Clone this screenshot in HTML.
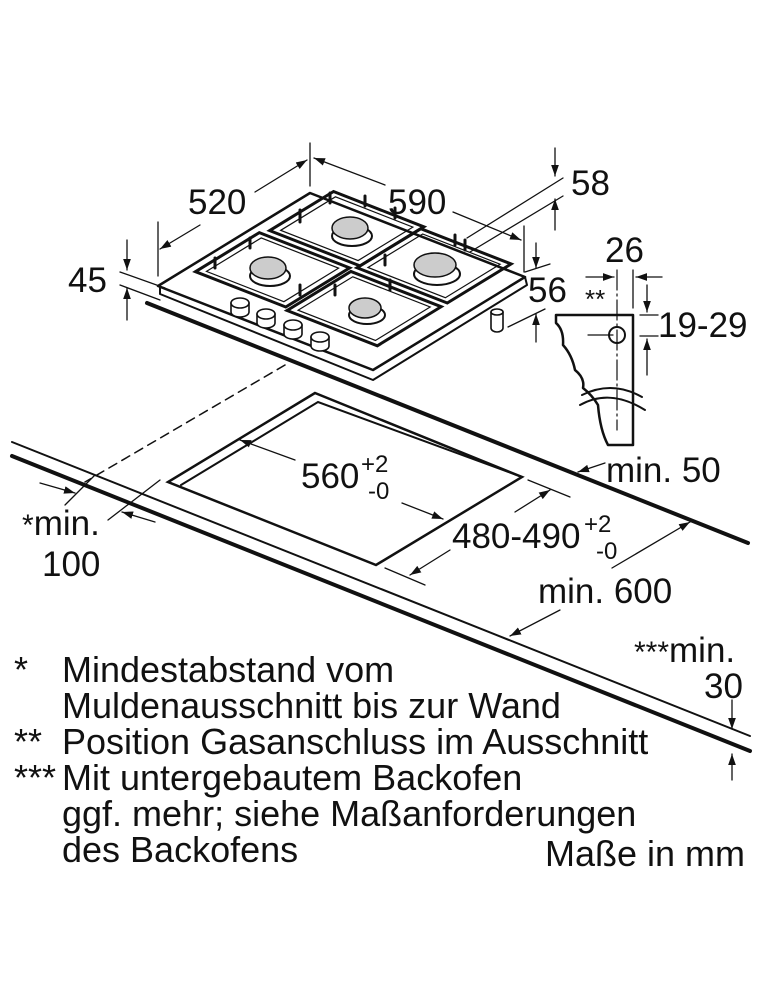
<!DOCTYPE html>
<html><head><meta charset="utf-8"><style>
html,body{margin:0;padding:0;background:#fff;}
svg{display:block;}
text{font-family:"Liberation Sans",Arial,sans-serif;fill:#111;}
</style></head><body>
<svg width="760" height="1000" viewBox="0 0 760 1000" xmlns="http://www.w3.org/2000/svg">
<defs>
<marker id="ar" viewBox="0 0 10 10" refX="10" refY="5" markerWidth="11" markerHeight="11" orient="auto-start-reverse" markerUnits="userSpaceOnUse">
<path d="M0,1.5 L10,5 L0,8.5 Z" fill="#111"/></marker>
</defs>
<g stroke="#111" fill="none" stroke-linecap="round">
<line x1="12" y1="442" x2="750" y2="736" stroke-width="2"/>
<line x1="12" y1="456" x2="750" y2="751" stroke-width="4"/>
<line x1="147" y1="303" x2="748" y2="543" stroke-width="4"/>
<line x1="285" y1="365" x2="85" y2="482" stroke-width="1.5" stroke-dasharray="9,6"/>
<line x1="65" y1="505" x2="95" y2="475" stroke-width="1.3"/>
<line x1="108" y1="520" x2="160" y2="480" stroke-width="1.3"/>
<line x1="40" y1="483" x2="75" y2="493" stroke-width="1.3" marker-end="url(#ar)"/>
<line x1="155" y1="522" x2="122" y2="512" stroke-width="1.3" marker-end="url(#ar)"/>
<polygon points="315,393 168,482 376,565 522,477" stroke-width="2.5"/>
<polyline points="181,485 318,402 522,477" stroke-width="2"/>
<line x1="295" y1="460" x2="240" y2="440" stroke-width="1.3" marker-end="url(#ar)"/>
<line x1="402" y1="503" x2="443" y2="519" stroke-width="1.3" marker-end="url(#ar)"/>
<line x1="528" y1="480" x2="570" y2="497" stroke-width="1.3"/>
<line x1="385" y1="568" x2="425" y2="585" stroke-width="1.3"/>
<line x1="515" y1="512" x2="550" y2="490" stroke-width="1.3" marker-end="url(#ar)"/>
<line x1="450" y1="550" x2="410" y2="575" stroke-width="1.3" marker-end="url(#ar)"/>
<line x1="612" y1="568" x2="690" y2="522" stroke-width="1.3" marker-end="url(#ar)"/>
<line x1="560" y1="610" x2="510" y2="636" stroke-width="1.3" marker-end="url(#ar)"/>
<line x1="605" y1="463" x2="578" y2="472" stroke-width="1.3" marker-end="url(#ar)"/>
<line x1="732" y1="700" x2="732" y2="729" stroke-width="1.3" marker-end="url(#ar)"/>
<line x1="732" y1="780" x2="732" y2="754" stroke-width="1.3" marker-end="url(#ar)"/>

<polygon points="158,286 310,193 525,277 373,370" stroke-width="2.5" stroke-linejoin="round" fill="#fff"/>
<polyline points="160,286 160,294 373,380 527,285 525,277" stroke-width="2" stroke-linejoin="round"/>
<g stroke-width="3">
<g transform="matrix(152,-93,215,84,158,286)">
<rect x="0.19" y="0.04" width="0.42" height="0.42" vector-effect="non-scaling-stroke"/>
<rect x="0.22" y="0.07" width="0.36" height="0.36" vector-effect="non-scaling-stroke" stroke-width="1.2"/>
<rect x="0.65" y="0.06" width="0.42" height="0.42" vector-effect="non-scaling-stroke"/>
<rect x="0.68" y="0.09" width="0.36" height="0.36" vector-effect="non-scaling-stroke" stroke-width="1.2"/>
<rect x="0.63" y="0.48" width="0.42" height="0.42" vector-effect="non-scaling-stroke"/>
<rect x="0.66" y="0.51" width="0.36" height="0.36" vector-effect="non-scaling-stroke" stroke-width="1.2"/>
<rect x="0.17" y="0.48" width="0.42" height="0.42" vector-effect="non-scaling-stroke"/>
<rect x="0.20" y="0.51" width="0.36" height="0.36" vector-effect="non-scaling-stroke" stroke-width="1.2"/>
</g>
</g>
<g stroke-width="3">
<line x1="215" y1="268" x2="215" y2="258"/><line x1="250" y1="248" x2="250" y2="238"/>
<line x1="300" y1="222" x2="300" y2="210"/><line x1="330" y1="203" x2="330" y2="193"/>
<line x1="365" y1="206" x2="365" y2="196"/><line x1="395" y1="218" x2="395" y2="208"/>
<line x1="385" y1="265" x2="385" y2="255"/><line x1="455" y1="245" x2="455" y2="235"/>
<line x1="465" y1="250" x2="465" y2="240"/><line x1="300" y1="295" x2="300" y2="285"/>
<line x1="335" y1="295" x2="335" y2="285"/><line x1="390" y1="290" x2="390" y2="280"/>
</g>
<g stroke-width="2">
<ellipse cx="352" cy="236" rx="20" ry="10" fill="#fff"/>
<ellipse cx="350" cy="228" rx="18" ry="11" fill="#ccc" stroke-width="1.5"/>
<ellipse cx="270" cy="276" rx="20" ry="10" fill="#fff"/>
<ellipse cx="268" cy="268" rx="18" ry="11" fill="#ccc" stroke-width="1.5"/>
<ellipse cx="437" cy="274" rx="23" ry="11" fill="#fff"/>
<ellipse cx="435" cy="265" rx="21" ry="12" fill="#ccc" stroke-width="1.5"/>
<ellipse cx="367" cy="315" rx="18" ry="9" fill="#fff"/>
<ellipse cx="365" cy="308" rx="16" ry="10" fill="#ccc" stroke-width="1.5"/>
</g>
<g stroke-width="1.6" fill="#fff">
<path d="M231,303 v9 a9,5 0 0 0 18,0 v-9"/><ellipse cx="240" cy="303" rx="9" ry="5"/>
<path d="M257,314 v9 a9,5 0 0 0 18,0 v-9"/><ellipse cx="266" cy="314" rx="9" ry="5"/>
<path d="M284,325 v9 a9,5 0 0 0 18,0 v-9"/><ellipse cx="293" cy="325" rx="9" ry="5"/>
<path d="M311,337 v9 a9,5 0 0 0 18,0 v-9"/><ellipse cx="320" cy="337" rx="9" ry="5"/>
<path d="M491,312 v16 a6,4 0 0 0 12,0 v-16"/><ellipse cx="497" cy="312" rx="6" ry="3"/>
</g>
<line x1="158" y1="222" x2="158" y2="276" stroke-width="1.3"/>
<line x1="310" y1="143" x2="310" y2="186" stroke-width="1.3"/>
<line x1="524" y1="226" x2="524" y2="272" stroke-width="1.3"/>
<line x1="200" y1="225" x2="160" y2="249" stroke-width="1.3" marker-end="url(#ar)"/>
<line x1="255" y1="192" x2="307" y2="160" stroke-width="1.3" marker-end="url(#ar)"/>
<line x1="385" y1="185" x2="314" y2="158" stroke-width="1.3" marker-end="url(#ar)"/>
<line x1="453" y1="212" x2="521" y2="240" stroke-width="1.3" marker-end="url(#ar)"/>
<line x1="467" y1="238" x2="563" y2="178" stroke-width="1.3"/>
<line x1="470" y1="252" x2="563" y2="196" stroke-width="1.3"/>
<line x1="555" y1="148" x2="555" y2="176" stroke-width="1.3" marker-end="url(#ar)"/>
<line x1="555" y1="230" x2="555" y2="199" stroke-width="1.3" marker-end="url(#ar)"/>
<line x1="525" y1="272" x2="550" y2="264" stroke-width="1.3"/>
<line x1="508" y1="327" x2="545" y2="309" stroke-width="1.3"/>
<line x1="536" y1="243" x2="536" y2="268" stroke-width="1.3" marker-end="url(#ar)"/>
<line x1="536" y1="342" x2="536" y2="314" stroke-width="1.3" marker-end="url(#ar)"/>
<line x1="120" y1="272" x2="165" y2="288" stroke-width="1.3"/>
<line x1="120" y1="285" x2="160" y2="300" stroke-width="1.3"/>
<line x1="127" y1="240" x2="127" y2="270" stroke-width="1.3" marker-end="url(#ar)"/>
<line x1="127" y1="320" x2="127" y2="288" stroke-width="1.3" marker-end="url(#ar)"/>
<path d="M556,315 L633,315 L633,445 L608,445 Q600,430 598,405 Q592,395 583,388 Q585,378 575,370 Q572,355 563,345 Q564,330 556,323 Z" stroke-width="2.5" fill="#fff" stroke-linejoin="round"/>
<path d="M580,405 Q610,388 645,410" stroke-width="2"/>
<path d="M582,395 Q612,380 642,397" stroke-width="2"/>
<circle cx="617" cy="335" r="8" stroke-width="2"/>
<line x1="617" y1="270" x2="617" y2="430" stroke-width="1.2" stroke-dasharray="20,4,2,4"/>
<line x1="588" y1="335" x2="613" y2="335" stroke-width="1.2"/>
<line x1="633" y1="270" x2="633" y2="308" stroke-width="1.3"/>
<line x1="586" y1="277" x2="614" y2="277" stroke-width="1.3" marker-end="url(#ar)"/>
<line x1="662" y1="277" x2="636" y2="277" stroke-width="1.3" marker-end="url(#ar)"/>
<line x1="640" y1="315" x2="658" y2="315" stroke-width="1.3"/>
<line x1="640" y1="336" x2="658" y2="336" stroke-width="1.3"/>
<line x1="647" y1="285" x2="647" y2="312" stroke-width="1.3" marker-end="url(#ar)"/>
<line x1="647" y1="375" x2="647" y2="339" stroke-width="1.3" marker-end="url(#ar)"/>
</g>
<g font-size="35">
<text x="188" y="214">520</text>
<text x="388" y="214">590</text>
<text x="571" y="195">58</text>
<text x="68" y="292">45</text>
<text x="605" y="262">26</text>
<text x="528" y="302">56</text>
<text x="585" y="308" font-size="26">**</text>
<text x="658" y="337">19-29</text>
<text x="606" y="482">min. 50</text>
<text x="301" y="488">560</text>
<text x="361" y="472" font-size="24">+2</text>
<text x="368" y="499" font-size="24">-0</text>
<text x="452" y="548">480-490</text>
<text x="584" y="532" font-size="24">+2</text>
<text x="596" y="559" font-size="24">-0</text>
<text x="538" y="603">min. 600</text>
<text x="22" y="535"><tspan font-size="30">*</tspan>min.</text>
<text x="42" y="576">100</text>
<text x="634" y="662"><tspan font-size="30">***</tspan>min.</text>
<text x="704" y="698">30</text>
</g>
<g font-size="36">
<text x="14" y="682">*</text><text x="62" y="682">Mindestabstand vom</text>
<text x="62" y="718">Muldenausschnitt bis zur Wand</text>
<text x="14" y="754">**</text><text x="62" y="754">Position Gasanschluss im Ausschnitt</text>
<text x="14" y="790">***</text><text x="62" y="790">Mit untergebautem Backofen</text>
<text x="62" y="826">ggf. mehr; siehe Maßanforderungen</text>
<text x="62" y="862">des Backofens</text>
<text x="745" y="866" text-anchor="end">Maße in mm</text>
</g>
</svg>
</body></html>
